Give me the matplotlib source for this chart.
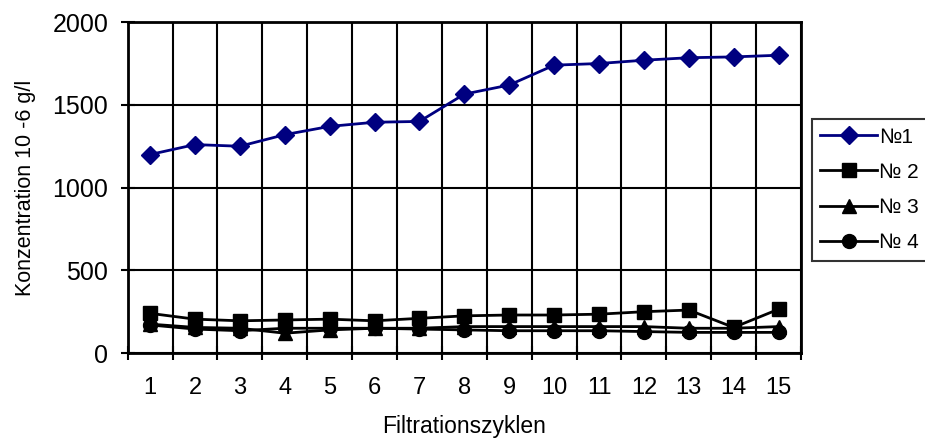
import matplotlib
matplotlib.use('Agg')
from matplotlib import pyplot as plt
import numpy as np

plt.rcParams['font.family'] = ['Liberation Sans', 'DejaVu Sans']

cycles = list(range(1, 16))
s1 = [1200, 1260, 1250, 1320, 1370, 1395, 1400, 1565, 1620, 1740, 1750, 1770, 1785, 1790, 1800]
s2 = [240, 205, 195, 200, 205, 195, 210, 225, 230, 230, 235, 250, 260, 155, 265]
s3 = [175, 155, 150, 120, 140, 150, 150, 160, 160, 160, 160, 160, 150, 150, 160]
s4 = [170, 145, 135, 150, 150, 150, 145, 140, 135, 135, 135, 130, 125, 125, 125]
names = ['№1', '№ 2', '№ 3', '№ 4']

fig = plt.figure(figsize=(9.25, 4.43), dpi=100)
ax = fig.add_axes([0.138, 0.203, 0.728, 0.747])

ax.plot(cycles, s1, color='#000080', marker='D', markersize=9, lw=2, label=names[0])
ax.plot(cycles, s2, color='black', marker='s', markersize=10, lw=2, label=names[1])
ax.plot(cycles, s3, color='black', marker='^', markersize=10, lw=2, label=names[2])
ax.plot(cycles, s4, color='black', marker='o', markersize=10, lw=2, label=names[3])

ax.set_xlim(0.5, 15.5)
ax.set_ylim(0, 2000)
ax.set_xticks(cycles)
ax.set_xticklabels([str(c) for c in cycles], fontsize=17)
ax.set_xticks(np.arange(0.5, 16, 1), minor=True)
ax.tick_params(axis='x', which='major', length=0, pad=17)
ax.tick_params(axis='x', which='minor', direction='inout', length=10, width=1.5)
ax.set_yticks([0, 500, 1000, 1500, 2000])
ax.tick_params(axis='y', direction='inout', length=10, width=1.5, labelsize=18, pad=9)

ax.grid(True, which='minor', axis='x', color='black', lw=1.5)
ax.grid(True, which='major', axis='y', color='black', lw=1.5)
ax.set_axisbelow(True)
for sp in ax.spines.values():
    sp.set_linewidth(2)

ax.set_xlabel('Filtrationszyklen', fontsize=16.5, labelpad=12)
ax.set_ylabel('Konzentration 10 -6 g/l', fontsize=15.5, labelpad=12)

leg = fig.legend(loc='upper left', bbox_to_anchor=(0.878, 0.731), fontsize=15,
                 frameon=True, fancybox=False, edgecolor='black', borderpad=0.4,
                 handlelength=2.7, labelspacing=0.78, handletextpad=0.1,
                 borderaxespad=0)
leg.get_frame().set_linewidth(1.5)

plt.savefig('out.png', dpi=100)
